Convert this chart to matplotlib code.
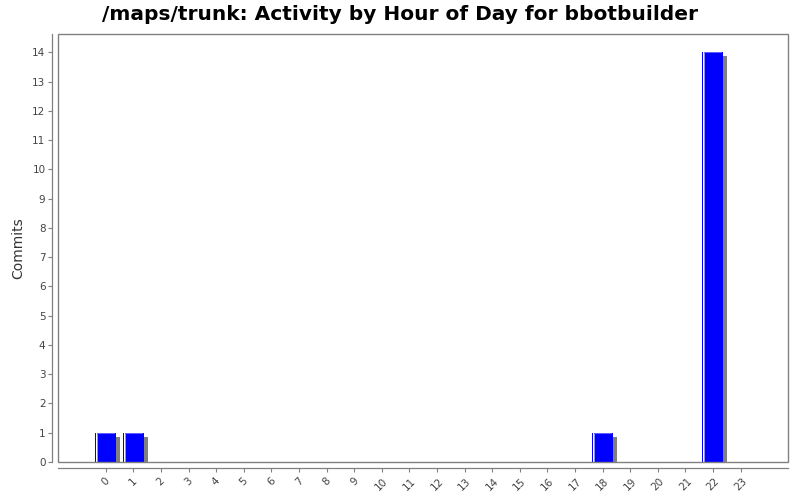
import numpy as np
import matplotlib
matplotlib.use('Agg')
import matplotlib.pyplot as plt
import matplotlib.transforms as mtransforms
from matplotlib.patches import Rectangle

hours = [str(h) for h in range(24)]
commits = [1, 1, 0, 0, 0, 0, 0, 0, 0, 0, 0, 0,
           0, 0, 0, 0, 0, 0, 1, 0, 0, 0, 14, 0]
y_ticks = list(range(15))

fig = plt.figure(figsize=(8, 5), dpi=100)
ax = fig.add_axes([0.0725, 0.076, 0.9125, 0.857])

x = np.arange(len(hours))
w = 0.76
# pixel scale: ~27.6 px per category, ~29.2 px per commit
px = 1 / 27.6
dx = 4 * px
dy = 4 / 29.2

# shadows
for xi, v in zip(x, commits):
    if v > 0:
        ax.bar(xi + dx, v - dy, width=w, color='#808080', edgecolor='none', zorder=1)
# bars
ax.bar(x, commits, width=w, color='#0000ff', edgecolor='none', zorder=2)
# highlight strip on left of bars
for xi, v in zip(x, commits):
    if v > 0:
        left = xi - w / 2
        ax.bar(left + 1.5 * px, v, width=px, color='white', edgecolor='none', zorder=3)
        ax.bar(left + 2.5 * px, v, width=px, color='#9090ff', edgecolor='none', zorder=3)
        ax.bar(xi + 0.5 * px, 1 / 29.2, bottom=v - 1 / 29.2, width=w - 3 * px,
               color='#6060ff', edgecolor='none', zorder=3)

ax.set_xlim(-1.73, 24.72)
ax.set_ylim(0, 14.64)
ax.set_xticks(x, hours)
ax.set_yticks(y_ticks, [str(t) for t in y_ticks])
ax.tick_params(axis='both', length=3, color='#808080', width=0.8,
               labelsize=7.5, labelcolor='#444444')
ax.tick_params(axis='x', pad=3, labelrotation=45)
ax.tick_params(axis='y', pad=2)
shift = mtransforms.ScaledTranslation(6 / 100, 0, fig.dpi_scale_trans)
for lbl in ax.get_xticklabels():
    lbl.set_ha('right')
    lbl.set_va('center')
    lbl.set_rotation_mode('anchor')
    lbl.set_transform(lbl.get_transform() + shift)

for s in ['top', 'right']:
    ax.spines[s].set_visible(False)
for s in ['left', 'bottom']:
    ax.spines[s].set_position(('outward', 4))
    ax.spines[s].set_color('#808080')
    ax.spines[s].set_linewidth(0.9)

# plot border
ax.add_patch(Rectangle((0, 0), 1, 1, transform=ax.transAxes, fill=False,
                       edgecolor='#808080', linewidth=1.0, clip_on=False, zorder=5))

ax.set_ylabel('Commits', fontsize=10, color='#333333', labelpad=5)
fig.suptitle('/maps/trunk: Activity by Hour of Day for bbotbuilder',
             fontsize=14.5, fontweight='bold', y=0.99)

fig.savefig('out.png', dpi=100)
